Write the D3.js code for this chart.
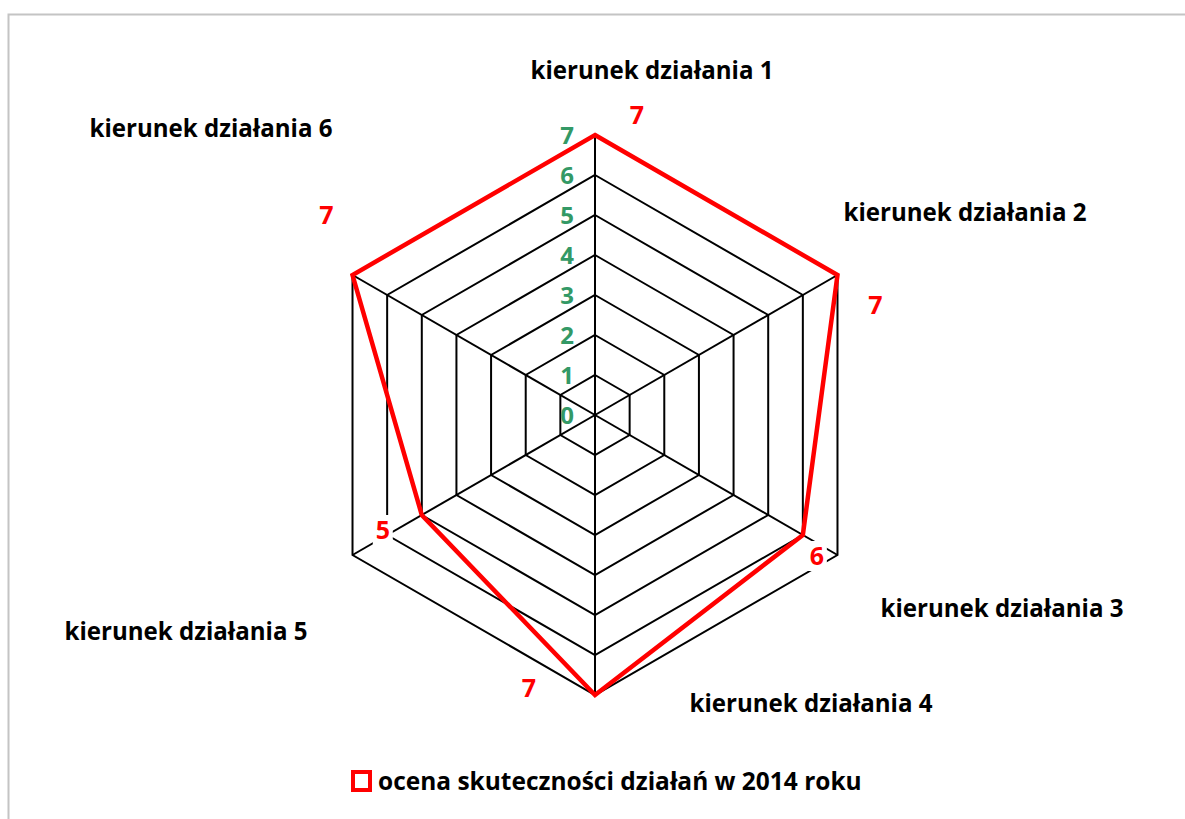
<!DOCTYPE html>
<html lang="pl">
<head>
<meta charset="utf-8">
<title>ocena skuteczności działań</title>
<script src="https://cdn.jsdelivr.net/npm/d3@7"></script>
<style>
  body { margin: 0; background: #fff; }
  text { font-family: "Open Sans", Lato, sans-serif; font-weight: bold; }
</style>
</head>
<body>
<div id="chart"></div>
<script>
var axes = ["kierunek działania 1", "kierunek działania 2", "kierunek działania 3",
            "kierunek działania 4", "kierunek działania 5", "kierunek działania 6"];
var values = [7, 7, 6, 7, 5, 7];
var ticks = [0, 1, 2, 3, 4, 5, 6, 7];
var seriesName = "ocena skuteczności działań w 2014 roku";

// layout only
var w = 1185, h = 819;
var cx = 595, cy = 415, R = 280;
var axisLabelPos = [[652, 72], [965, 214], [1002, 610], [811, 705], [186, 633], [211, 130]];
var valueOffset = [[42, -20], [38, 30], [14, 21], [-66, -7], [-39, 15], [-26, -60]];

var svg = d3.select("#chart").append("svg")
  .attr("width", w).attr("height", h);

// fit a text element to a target width by adjusting font size
function fitWidth(sel, target) {
  sel.each(function() {
    var fs = +this.getAttribute("font-size");
    var len = this.getComputedTextLength();
    this.setAttribute("font-size", (fs * target / len).toFixed(2));
  });
}

// frame
svg.append("rect")
  .attr("x", 8.5).attr("y", 14.5)
  .attr("width", w + 20).attr("height", h + 20)
  .attr("fill", "none").attr("stroke", "#c4c4c4").attr("stroke-width", 2);

var r = d3.scaleLinear().domain([0, 7]).range([0, R]);
var angle = function(i) { return i * 2 * Math.PI / axes.length; };
var pt = function(i, v) {
  return [cx + r(v) * Math.sin(angle(i)), cy - r(v) * Math.cos(angle(i))];
};

var g = svg.append("g");

// rings
g.selectAll("path.ring")
  .data(ticks.filter(function(t) { return t > 0; }))
  .enter().append("path")
  .attr("class", "ring")
  .attr("d", function(t) {
    return d3.line()(axes.map(function(a, i) { return pt(i, t); })) + "Z";
  })
  .attr("fill", "none").attr("stroke", "#000").attr("stroke-width", 2);

// spokes
g.selectAll("line.spoke")
  .data(axes)
  .enter().append("line")
  .attr("x1", cx).attr("y1", cy)
  .attr("x2", function(d, i) { return pt(i, 7)[0]; })
  .attr("y2", function(d, i) { return pt(i, 7)[1]; })
  .attr("stroke", "#000").attr("stroke-width", 2);

// tick labels
g.selectAll("text.tick")
  .data(ticks)
  .enter().append("text")
  .attr("x", cx - 28)
  .attr("y", function(t) { return cy - r(t) + 9; })
  .attr("text-anchor", "middle")
  .attr("font-size", 24)
  .attr("fill", "#339966")
  .text(function(t) { return t; });

// series
g.append("path")
  .attr("d", d3.line()(values.map(function(v, i) { return pt(i, v); })) + "Z")
  .attr("fill", "none").attr("stroke", "#ff0000").attr("stroke-width", 4.5)
  .attr("stroke-linejoin", "miter");

// value labels with white box
var vl = g.selectAll("g.vlabel")
  .data(values)
  .enter().append("g")
  .attr("transform", function(v, i) {
    var p = pt(i, v);
    return "translate(" + (p[0] + valueOffset[i][0]) + "," + (p[1] + valueOffset[i][1]) + ")";
  });
vl.append("rect")
  .attr("x", -10).attr("y", -15).attr("width", 20).attr("height", 30)
  .attr("fill", "#fff");
vl.append("text")
  .attr("text-anchor", "middle")
  .attr("y", 9)
  .attr("font-size", 25)
  .attr("fill", "#ff0000")
  .text(function(v) { return v; });

// axis labels
svg.selectAll("text.axis")
  .data(axes)
  .enter().append("text")
  .attr("class", "axis")
  .attr("x", function(d, i) { return axisLabelPos[i][0]; })
  .attr("y", function(d, i) { return axisLabelPos[i][1] + 7; })
  .attr("text-anchor", "middle")
  .attr("font-size", 20)
  .attr("fill", "#000")
  .text(function(d) { return d; })
  .call(fitWidth, 243);

// legend
var lg = svg.append("g").attr("transform", "translate(351,770)");
lg.append("rect")
  .attr("x", 2).attr("y", 2).attr("width", 17).attr("height", 18)
  .attr("fill", "#fff").attr("stroke", "#ff0000").attr("stroke-width", 4);
lg.append("text")
  .attr("x", 27).attr("y", 20)
  .attr("font-size", 20)
  .attr("fill", "#000")
  .text(seriesName)
  .call(fitWidth, 484);
</script>
</body>
</html>
